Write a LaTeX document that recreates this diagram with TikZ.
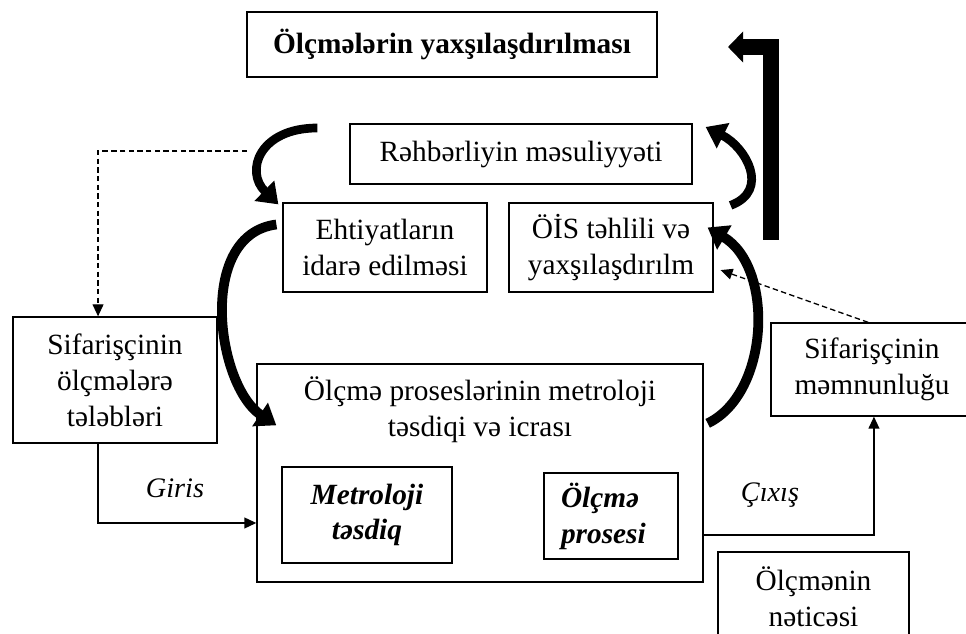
\documentclass[tikz,border=0pt]{standalone}
\usepackage{fontspec}
\setmainfont{Liberation Serif}
\usetikzlibrary{
  arrows.meta,  % Triangle 箭头
  calc,         % 坐标计算
  positioning   % 节点相对定位
}
\newcommand{\txtsize}{\fontsize{13.5}{16.5}\selectfont}
\tikzset{
  box/.style={
    draw,
    line width=0.6pt,
    align=center,
    inner sep=0pt,
    font=\txtsize
  },
  conn/.style={
    -{Triangle[length=5.5pt,width=5pt]},
    line width=0.6pt
  },
  dashconn/.style={
    conn,
    dashed,
    dash pattern=on 2.5pt off 1.5pt
  },
  loop arrow/.style={
    -{Triangle[length=9pt,width=12.5pt]},
    line width=4.5pt
  },
  big arrow/.style={
    -{Triangle[length=7pt,width=14pt]},
    line width=7.4pt,
    line join=miter
  },
  lbl/.style={
    font=\fontsize{13}{16}\selectfont\itshape
  }
}

\begin{document}
\begin{tikzpicture}[x=0.46pt, y=-0.46pt]

  % 1. 画布大小
  \useasboundingbox (0,0) rectangle (966,634);
  \clip (0,0) rectangle (966,634);

  % 2. 各个方框
  \node[box, font=\txtsize\bfseries, minimum width=188.6pt, minimum height=29.9pt] (improve) at (452,44.5) {Ölçmələrin yaxşılaşdırılması};
  \node[box, minimum width=157.3pt, minimum height=27.6pt] (rehber) at (521,154) {Rəhbərliyin məsuliyyəti};
  \node[box, minimum width=93.8pt, minimum height=40.9pt] (ehtiyat) at (385,247.5) {Ehtiyatların\\idarə edilməsi};
  \node[box, minimum width=93.8pt, minimum height=40.9pt] (ois) at (611,247.5) {ÖİS təhlili və\\yaxşılaşdırılm};
  \node[box, minimum width=93.8pt, minimum height=58pt] (sifreq) at (115,380) {Sifarişçinin\\ölçmələrə\\tələbləri};
  \node[box, minimum width=205.2pt, minimum height=100.3pt] (procbox) at (480,473) {};
  \node[align=center, font=\txtsize] (proctitle) at (480,410) {Ölçmə proseslərinin metroloji\\təsdiqi və icrası};
  \node[box, font=\txtsize\bfseries\itshape, minimum width=78.2pt, minimum height=44.2pt] (metro) at (367,515) {Metroloji\\təsdiq};
  \node[box, font=\txtsize\bfseries\itshape, align=left, text width=46pt, inner xsep=7.8pt, minimum height=39.6pt] (olcpro) at (611,516) {Ölçmə\\prosesi};
  \node[box, minimum width=92.9pt, minimum height=42.8pt] (memnun) at (872,369.5) {Sifarişçinin\\məmnunluğu};
  \node[box, minimum width=87.9pt, minimum height=41.4pt] (netice) at (813.5,597) {Ölçmənin\\nəticəsi};

  % 3. 斜体标注
  \node[lbl] (giris) at (175,488) {Giris};
  \node[lbl] (cixis) at (770,495) {Çıxış};

  % 4. 细线箭头（输入、输出、虚线）
  \draw[conn] ([xshift=-7.8pt]sifreq.south) |- ([yshift=-23pt]procbox.west);
  \draw[conn] ([yshift=-28.5pt]procbox.east) -| ([xshift=0.9pt]memnun.south);
  \coordinate (dstart) at (247,151);
  \draw[dashconn] (dstart) -| ([xshift=-7.8pt]sifreq.north);
  \draw[dashconn] ([xshift=-1.8pt]memnun.north) -- ([xshift=3.2pt,yshift=-10.4pt]ois.east);

  % 5. 粗弧形箭头（循环）
  \draw[loop arrow, line width=4pt] ($(rehber.west)+(-32,-26)$) .. controls +(-58,0) and +(-34,-33) .. ($(ehtiyat.north west)+(-4,2)$);
  \draw[loop arrow] ($(ehtiyat.west)+(-6,-23)$) .. controls +(-80,10) and +(-60,-40) .. ($(procbox.north west)+(20,62)$);
  \draw[loop arrow] ($(procbox.north east)+(4,60)$) .. controls +(62,-30) and +(67,40) .. ($(ois.east)+(-6,-20)$);
  \draw[loop arrow, line width=4pt] ($(ois.north east)+(17,3)$) .. controls +(40,-15) and +(40,20) .. ($(rehber.east)+(13,-27)$);

  % 6. 右侧的大折线箭头
  \coordinate (bigbot) at (771,240);
  \coordinate (bigtip) at (728,47);
  \draw[big arrow] (bigbot) |- (bigtip);

\end{tikzpicture}
\end{document}
